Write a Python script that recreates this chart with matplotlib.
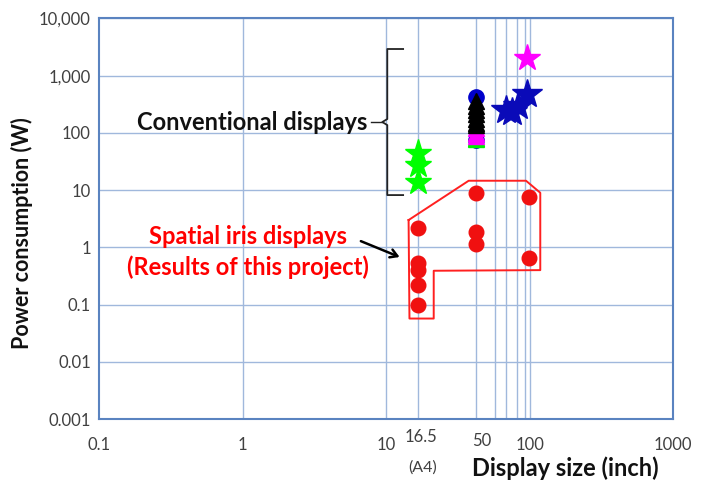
import matplotlib
matplotlib.use('Agg')
import matplotlib.pyplot as plt
from matplotlib.ticker import FixedLocator, FixedFormatter
import matplotlib.transforms as mtransforms

plt.rcParams['font.family'] = ['Lato', 'DejaVu Sans']

# ---- data ----
green_star_x = [16.5, 16.5, 16.5]
green_star_y = [45, 28, 14]

cluster_x = 42  # "50" inch group sits here on the log axis
blue_circle_y = [420, 75]
green_tri_y = [80, 78]
magenta_tri_y = [120, 100, 90]
black_tri_y = [360, 300, 250, 210, 175, 150, 135]

blue_star_x = [68, 75, 83, 96]
blue_star_y = [250, 230, 295, 480]

magenta_star_x = [96]
magenta_star_y = [2000]

red_x = [16.5, 16.5, 16.5, 16.5, 16.5, 42, 42, 42, 99, 99]
red_y = [2.15, 0.53, 0.40, 0.22, 0.098, 8.8, 1.87, 1.14, 7.5, 0.66]

extra_lines_x = [16.5, 42, 57, 68, 82, 92]

x_ticks = [0.1, 1, 10, 100, 1000]
x_tick_labels = ['0.1', '1', '10', '100', '1000']
y_ticks = [0.001, 0.01, 0.1, 1, 10, 100, 1000, 10000]
y_tick_labels = ['0.001', '0.01', '0.1', '1', '10', '100', '1,000', '10,000']

# region outline around the spatial iris points (data coords)
iris_box_x = [14.3, 37.5, 94.1, 118.3, 118.3, 21.4, 21.4, 14.5, 14.3]
iris_box_y = [3.0, 14.6, 14.6, 9.0, 0.40, 0.39, 0.057, 0.057, 3.0]

# bracket for conventional displays
brace_x = [13.1, 10.16, 10.16, 9.38, 10.16, 10.16, 13.1]
brace_y = [2930, 2930, 175, 155, 137, 8.2, 8.2]

grid_col = '#A0B8DC'
frame_col = '#5A83C0'
tick_col = '#404040'

fig = plt.figure(figsize=(7.03, 4.86), dpi=100)
ax = fig.add_axes([99.3 / 703, 67 / 486, 574 / 703, 400.5 / 486])
ax.set_xscale('log')
ax.set_yscale('log')
ax.set_xlim(0.1, 1000)
ax.set_ylim(0.001, 10000)

# grid
for yv in y_ticks:
    ax.axhline(yv, color=grid_col, lw=1.0, zorder=1)
for xv in x_ticks[1:-1]:
    ax.axvline(xv, color=grid_col, lw=1.0, zorder=1)
for xv in extra_lines_x:
    ax.axvline(xv, color=grid_col, lw=1.0, zorder=1)

for s in ax.spines.values():
    s.set_color(frame_col)
    s.set_linewidth(1.5)

ax.xaxis.set_major_locator(FixedLocator(x_ticks))
ax.xaxis.set_major_formatter(FixedFormatter(x_tick_labels))
ax.yaxis.set_major_locator(FixedLocator(y_ticks))
ax.yaxis.set_major_formatter(FixedFormatter(y_tick_labels))
ax.xaxis.set_minor_locator(FixedLocator([]))
ax.yaxis.set_minor_locator(FixedLocator([]))
ax.tick_params(axis='x', length=0, pad=13, labelsize=12, labelcolor=tick_col)
ax.tick_params(axis='y', length=0, pad=6, labelsize=12, labelcolor=tick_col)

# conventional displays
ax.plot(green_star_x, green_star_y, ls='none', marker='*', ms=20, color='#00FF00', zorder=4)
ax.plot([cluster_x] * len(blue_circle_y), blue_circle_y, ls='none', marker='o', ms=11,
        color='#0000CC', zorder=3)
ax.plot([cluster_x] * len(green_tri_y), green_tri_y, ls='none', marker='^', ms=11,
        color='#00EE00', zorder=4)
ax.plot([cluster_x] * len(magenta_tri_y), magenta_tri_y, ls='none', marker='^', ms=11,
        color='#FF00FF', zorder=5)
ax.plot([cluster_x] * len(black_tri_y), black_tri_y, ls='none', marker='^', ms=11,
        color='black', zorder=6)
ax.plot(blue_star_x, blue_star_y, ls='none', marker='*', ms=22, color='#0A0AB8', zorder=4)
ax.plot(magenta_star_x, magenta_star_y, ls='none', marker='*', ms=20, color='#FF00FF', zorder=4)

# spatial iris displays
ax.plot(red_x, red_y, ls='none', marker='o', ms=10.5, color='#F01010', zorder=5)
ax.plot(iris_box_x, iris_box_y, color='#FF2020', lw=1.4, zorder=4)

# bracket + label
ax.plot(brace_x, brace_y, color='#222222', lw=1.3, zorder=4)
ax.plot([7.86, 9.38], [155, 155], color='#222222', lw=1.0, zorder=4)
ax.text(7.4, 155, 'Conventional displays', ha='right', va='center',
        fontsize=17, fontweight='bold', color='#111111', zorder=6)

ax.text(1.09, 1.53, 'Spatial iris displays', ha='center', va='center',
        fontsize=17, fontweight='bold', color='#FF0000', zorder=6)
ax.text(1.09, 0.458, '(Results of this project)', ha='center', va='center',
        fontsize=17, fontweight='bold', color='#FF0000', zorder=6)
ax.annotate('', xy=(12.9, 0.65), xytext=(6.38, 1.34),
            arrowprops=dict(arrowstyle='->,head_length=0.5,head_width=0.3',
                            color='black', lw=1.8), zorder=6)

# extra axis labels
trans = mtransforms.blended_transform_factory(ax.transData, ax.transAxes)
ax.text(17.5, -0.044, '16.5', transform=trans, ha='center', va='center',
        fontsize=12, color=tick_col, clip_on=False)
ax.text(46, -0.054, '50', transform=trans, ha='center', va='center',
        fontsize=12, color=tick_col, clip_on=False)
ax.text(18, -0.122, '(A4)', transform=trans, ha='center', va='center',
        fontsize=11.5, color=tick_col, clip_on=False)
ax.text(176, -0.122, 'Display size (inch)', transform=trans, ha='center', va='center',
        fontsize=17, fontweight='bold', color='#111111', clip_on=False)

fig.text(21.7 / 703, 1 - 233 / 486, 'Power consumption (W)', rotation=90,
         ha='center', va='center', fontsize=15.5, fontweight='bold', color='#111111')

fig.savefig('out.png', dpi=100)
